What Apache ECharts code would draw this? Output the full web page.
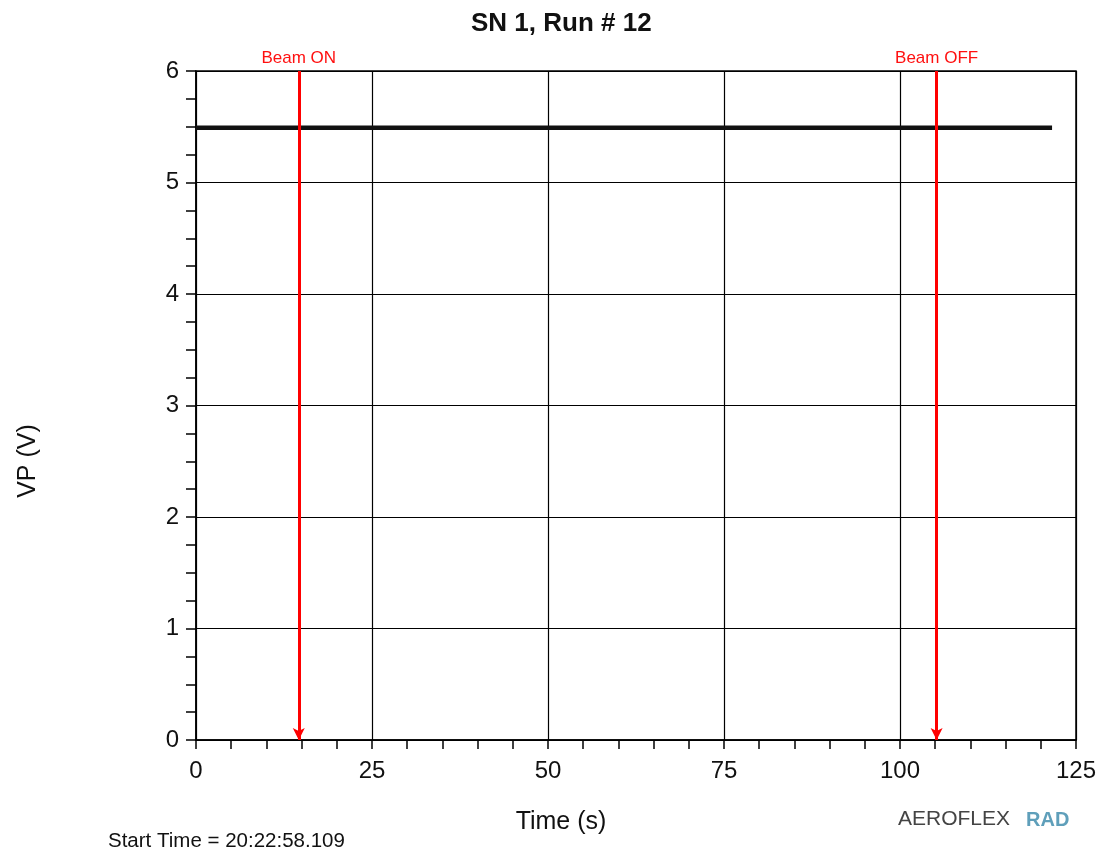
<!DOCTYPE html>
<html>
<head>
<meta charset="utf-8">
<script src="https://cdn.jsdelivr.net/npm/echarts@6/dist/echarts.min.js"></script>
<style>html,body{margin:0;padding:0;background:#fff;}#c{width:1100px;height:856px;}</style>
</head>
<body>
<div id="c"></div>
<script>
const titleText = "SN 1, Run # 12";
const xName = "Time (s)";
const yName = "VP (V)";
const startTime = "Start Time = 20:22:58.109";
const times = [0,1,2,3,4,5,6,7,8,9,10,11,12,13,14,15,16,17,18,19,20,21,22,23,24,25,26,27,28,29,30,31,32,33,34,35,36,37,38,39,40,41,42,43,44,45,46,47,48,49,50,51,52,53,54,55,56,57,58,59,60,61,62,63,64,65,66,67,68,69,70,71,72,73,74,75,76,77,78,79,80,81,82,83,84,85,86,87,88,89,90,91,92,93,94,95,96,97,98,99,100,101,102,103,104,105,106,107,108,109,110,111,112,113,114,115,116,117,118,119,120,121,121.6];
const vp = [5.49,5.49,5.49,5.49,5.49,5.49,5.49,5.49,5.49,5.49,5.49,5.49,5.49,5.49,5.49,5.49,5.49,5.49,5.49,5.49,5.49,5.49,5.49,5.49,5.49,5.49,5.49,5.49,5.49,5.49,5.49,5.49,5.49,5.49,5.49,5.49,5.49,5.49,5.49,5.49,5.49,5.49,5.49,5.49,5.49,5.49,5.49,5.49,5.49,5.49,5.49,5.49,5.49,5.49,5.49,5.49,5.49,5.49,5.49,5.49,5.49,5.49,5.49,5.49,5.49,5.49,5.49,5.49,5.49,5.49,5.49,5.49,5.49,5.49,5.49,5.49,5.49,5.49,5.49,5.49,5.49,5.49,5.49,5.49,5.49,5.49,5.49,5.49,5.49,5.49,5.49,5.49,5.49,5.49,5.49,5.49,5.49,5.49,5.49,5.49,5.49,5.49,5.49,5.49,5.49,5.49,5.49,5.49,5.49,5.49,5.49,5.49,5.49,5.49,5.49,5.49,5.49,5.49,5.49,5.49,5.49,5.49,5.49];
const beamLabels = ["Beam ON", "Beam OFF"];
const beamTimes = [14.6, 105.2];

const pts = times.map((t, i) => [t, vp[i]]);
const font = "'Liberation Sans', Arial, sans-serif";
const chart = echarts.init(document.getElementById('c'), null, {renderer: 'canvas'});
chart.setOption({
  animation: false,
  backgroundColor: '#fff',
  title: {
    text: titleText, left: 466, top: 6,
    textStyle: {fontFamily: font, fontSize: 26, fontWeight: 'bold', color: '#111'}
  },
  grid: {left: 196, right: 24, top: 71, bottom: 116, show: true, borderColor: '#000', borderWidth: 1.5},
  xAxis: {
    type: 'value', min: 0, max: 125, interval: 25,
    axisLine: {lineStyle: {color: '#000', width: 1.5}},
    axisTick: {show: true, length: 9, lineStyle: {color: '#000', width: 1.5}},
    minorTick: {show: true, splitNumber: 5, length: 9, lineStyle: {color: '#000', width: 1.5}},
    splitLine: {show: true, lineStyle: {color: '#000', width: 1.2}},
    axisLabel: {fontFamily: font, fontSize: 24, color: '#111', margin: 19}
  },
  yAxis: {
    type: 'value', min: 0, max: 6, interval: 1,
    axisLine: {lineStyle: {color: '#000', width: 1.5}},
    axisTick: {show: true, length: 10, lineStyle: {color: '#000', width: 1.5}},
    minorTick: {show: true, splitNumber: 4, length: 10, lineStyle: {color: '#000', width: 1.5}},
    splitLine: {show: true, lineStyle: {color: '#000', width: 1.2}},
    axisLabel: {fontFamily: font, fontSize: 24, color: '#111', margin: 17}
  },
  series: [{
    type: 'line', data: pts, symbol: 'none', z: 3,
    lineStyle: {color: '#111', width: 4.5},
    markLine: {
      silent: true, symbol: ['none', 'arrow'], symbolSize: [9, 12], z: 5,
      lineStyle: {color: '#ff0000', width: 3, type: 'solid'},
      label: {show: true, position: 'start', distance: 4, color: '#ff1010', fontFamily: "'Liberation Sans Narrow', 'Liberation Sans', Arial, sans-serif", fontSize: 17},
      data: beamTimes.map((t, i) => [
        {coord: [t, 6], name: beamLabels[i], label: {formatter: beamLabels[i]}},
        {coord: [t, 0]}
      ])
    }
  }],
  graphic: [
    {type: 'text', x: 561, y: 822, style: {text: xName, font: '25px ' + font, fill: '#111', align: 'center', verticalAlign: 'middle'}},
    {type: 'text', x: 28, y: 461, rotation: Math.PI / 2, style: {text: yName, font: '25px ' + font, fill: '#111', align: 'center', verticalAlign: 'middle'}},
    {type: 'text', left: 108, top: 831, style: {text: startTime, font: '20.5px ' + font, fill: '#111'}},
    {type: 'text', left: 898, top: 809, style: {text: 'AEROFLEX', font: '21px ' + font, fill: '#444'}},
    {type: 'text', left: 1026, top: 810, style: {text: 'RAD', font: 'bold 20px ' + font, fill: '#5f9fba'}}
  ]
});
</script>
</body>
</html>
